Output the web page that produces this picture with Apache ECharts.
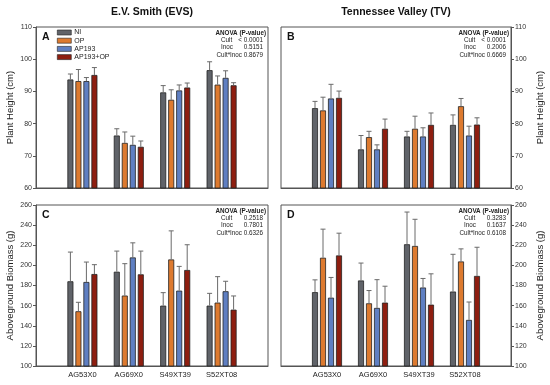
<!DOCTYPE html>
<html>
<head>
<meta charset="utf-8">
<script src="https://cdn.jsdelivr.net/npm/echarts@6/dist/echarts.min.js"></script>
<style>html,body{margin:0;padding:0;background:#fff}#c{width:550px;height:385px}</style>
</head>
<body>
<div id="c"></div>
<script>
// ---------- data ----------
const categories = ['AG53X0', 'AG69X0', 'S49XT39', 'S52XT08'];
const treatments = ['NI', 'OP', 'AP193', 'AP193+OP'];
const heightTicks = [60, 70, 80, 90, 100, 110];
const biomassTicks = [100, 120, 140, 160, 180, 200, 220, 240, 260];

// rows: NI, OP, AP193, AP193+OP ; columns: categories
const evsHeightMean = [
  [93.7, 76.3, 89.7, 96.6],
  [93.2, 74.0, 87.4, 92.1],
  [93.2, 73.4, 90.3, 94.2],
  [95.1, 72.8, 91.2, 91.9]
];
const evsHeightErr = [
  [1.7, 2.1, 2.1, 2.6],
  [3.6, 3.4, 3.1, 2.7],
  [1.1, 2.7, 1.7, 2.2],
  [2.3, 1.8, 1.4, 0.8]
];
const tvHeightMean = [
  [84.8, 72.0, 76.0, 79.6],
  [84.1, 75.8, 78.4, 85.4],
  [87.8, 72.0, 76.0, 76.3],
  [88.0, 78.4, 79.6, 79.7]
];
const tvHeightErr = [
  [2.1, 4.3, 1.6, 3.1],
  [4.1, 1.8, 3.9, 2.4],
  [4.4, 1.4, 2.7, 2.9],
  [2.1, 3.0, 3.7, 2.1]
];
const evsBiomassMean = [
  [184.2, 193.7, 160.0, 160.0],
  [154.4, 170.0, 205.9, 163.0],
  [183.5, 207.9, 174.9, 174.3],
  [191.4, 191.1, 195.4, 156.0]
];
const evsBiomassErr = [
  [29.0, 20.5, 12.9, 12.2],
  [8.9, 31.7, 28.4, 25.8],
  [19.8, 14.5, 24.1, 9.9],
  [9.3, 23.1, 25.1, 13.6]
];
const tvBiomassMean = [
  [173.4, 185.0, 221.0, 174.0],
  [207.6, 162.3, 219.3, 203.9],
  [167.9, 157.7, 178.0, 145.8],
  [209.9, 163.0, 161.0, 189.5]
];
const tvBiomassErr = [
  [12.2, 17.3, 32.0, 37.0],
  [28.4, 12.7, 26.5, 12.5],
  [20.1, 28.1, 9.0, 17.8],
  [22.1, 16.3, 30.6, 28.5]
];
const anovaA = ['< 0.0001', '0.5151', '0.8679'];
const anovaB = ['< 0.0001', '0.2006', '0.6669'];
const anovaC = ['0.2518', '0.7801', '0.6326'];
const anovaD = ['0.3283', '0.1637', '0.6108'];

// ---------- style ----------
const colors = ['#606369', '#dd7a2f', '#5f7fc2', '#8e1e10'];
const FONT = '"Liberation Sans", Arial, sans-serif';
const BAR_W = 6, BAR_GAP = 2;
const axisColor = '#555';

const panels = [
  {grid: {left: 36, right: 282, top: 27, bottom: 197}, mean: evsHeightMean, err: evsHeightErr, ticks: heightTicks, name: 'Plant Height (cm)', pos: 'left', xlabels: false, letter: 'A', anova: anovaA},
  {grid: {left: 281, right: 39, top: 27, bottom: 197}, mean: tvHeightMean, err: tvHeightErr, ticks: heightTicks, name: 'Plant Height (cm)', pos: 'right', xlabels: false, letter: 'B', anova: anovaB},
  {grid: {left: 36, right: 282, top: 205, bottom: 19}, mean: evsBiomassMean, err: evsBiomassErr, ticks: biomassTicks, name: 'Aboveground Biomass (g)', pos: 'left', xlabels: true, letter: 'C', anova: anovaC},
  {grid: {left: 281, right: 39, top: 205, bottom: 19}, mean: tvBiomassMean, err: tvBiomassErr, ticks: biomassTicks, name: 'Aboveground Biomass (g)', pos: 'right', xlabels: true, letter: 'D', anova: anovaD}
];

const xCats = [''].concat(categories, ['']);

const grids = [], xAxes = [], yAxes = [], series = [], graphics = [];

panels.forEach((p, gi) => {
  grids.push(Object.assign({show: true, borderColor: axisColor, borderWidth: 1, backgroundColor: 'transparent'}, p.grid));
  xAxes.push({
    type: 'category', gridIndex: gi, data: xCats, boundaryGap: false,
    axisLine: {lineStyle: {color: axisColor, width: 1}}, axisTick: {show: false},
    axisLabel: {show: p.xlabels, fontSize: 7.5, color: '#222', fontFamily: FONT, margin: 5, interval: 0}
  });
  const step = p.ticks[1] - p.ticks[0];
  yAxes.push({
    type: 'value', gridIndex: gi, position: p.pos,
    min: p.ticks[0], max: p.ticks[p.ticks.length - 1], interval: step,
    splitLine: {show: false},
    axisLine: {show: true, lineStyle: {color: axisColor, width: 1}},
    axisTick: {show: true, length: 3, lineStyle: {color: axisColor}},
    axisLabel: {fontSize: 7, color: '#333', fontFamily: FONT, margin: 4},
    name: p.name, nameLocation: 'middle', nameGap: p.pos === 'left' ? 21 : 24,
    nameTextStyle: {fontSize: 9.5, color: '#222', fontFamily: FONT}
  });
  treatments.forEach((t, si) => {
    series.push({
      type: 'bar', name: t, xAxisIndex: gi, yAxisIndex: gi,
      barWidth: BAR_W, barGap: (BAR_GAP / BAR_W * 100) + '%',
      data: ['-'].concat(p.mean[si], ['-']),
      itemStyle: {color: colors[si], borderColor: '#222', borderWidth: 0.8},
      emphasis: {disabled: true}, animation: false
    });
  });
  treatments.forEach((t, si) => {
    const off = (si - 1.5) * (BAR_W + BAR_GAP);
    series.push({
      type: 'custom', xAxisIndex: gi, yAxisIndex: gi, z: 5, animation: false, silent: true,
      data: p.mean[si].map((m, ci) => [ci + 1, m, m + p.err[si][ci]]),
      renderItem: function (params, api) {
        const a = api.coord([api.value(0), api.value(1)]);
        const b = api.coord([api.value(0), api.value(2)]);
        const x = a[0] + off;
        const st = {stroke: '#6a6a6a', lineWidth: 1};
        return {type: 'group', children: [
          {type: 'line', shape: {x1: x, y1: a[1], x2: x, y2: b[1]}, style: st},
          {type: 'line', shape: {x1: x - 2.5, y1: b[1], x2: x + 2.5, y2: b[1]}, style: st}
        ]};
      }
    });
  });

  // panel letter
  const gl = p.grid.left, gt = p.grid.top;
  const gr = 550 - p.grid.right;
  graphics.push({type: 'text', left: gl + 6, top: gt + 5, style: {text: p.letter, font: 'bold 10.5px ' + FONT, fill: '#111'}});
  // ANOVA block
  const xr = gr - 2, xl = gr - 49;
  const ys = [gt + 3, gt + 10.3, gt + 17.6, gt + 24.9];
  graphics.push({type: 'text', x: xr, y: ys[0], style: {text: 'ANOVA (P-value)', font: 'bold 6.3px ' + FONT, fill: '#222', align: 'right', verticalAlign: 'top'}});
  ['Cult', 'Inoc'].forEach((lb, k) => {
    graphics.push({type: 'text', x: xl + 2, y: ys[k + 1], style: {text: lb, font: '6.3px ' + FONT, fill: '#222', align: 'left', verticalAlign: 'top'}});
    graphics.push({type: 'text', x: xr - 3, y: ys[k + 1], style: {text: p.anova[k], font: '6.3px ' + FONT, fill: '#222', align: 'right', verticalAlign: 'top'}});
  });
  graphics.push({type: 'text', x: xr - 3, y: ys[3], style: {text: 'Cult*Inoc ' + p.anova[2], font: '6.3px ' + FONT, fill: '#222', align: 'right', verticalAlign: 'top'}});
});

// column titles
graphics.push({type: 'text', x: 152, y: 12, style: {text: 'E.V. Smith (EVS)', font: 'bold 10.5px ' + FONT, fill: '#111', align: 'center', verticalAlign: 'middle'}});
graphics.push({type: 'text', x: 396, y: 12, style: {text: 'Tennessee Valley (TV)', font: 'bold 10.5px ' + FONT, fill: '#111', align: 'center', verticalAlign: 'middle'}});

const chart = echarts.init(document.getElementById('c'), null, {renderer: 'canvas'});
chart.setOption({
  animation: false,
  backgroundColor: '#fff',
  textStyle: {fontFamily: FONT},
  legend: {
    data: treatments.map((t, i) => ({name: t, icon: 'rect', itemStyle: {color: colors[i], borderColor: '#222', borderWidth: 0.6}})),
    orient: 'vertical', left: 57, top: 29, itemWidth: 14, itemHeight: 5, itemGap: 1.2,
    textStyle: {fontSize: 7, color: '#222', fontFamily: FONT, lineHeight: 6, padding: [0, 0, 0, -2]},
    selectedMode: false, padding: 0
  },
  grid: grids, xAxis: xAxes, yAxis: yAxes, series: series, graphic: graphics
});
</script>
</body>
</html>
